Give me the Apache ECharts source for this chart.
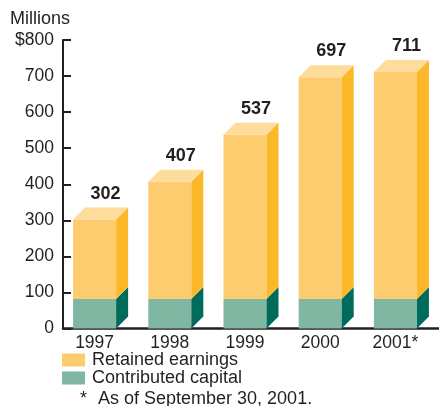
<!DOCTYPE html>
<html>
<head>
<meta charset="utf-8">
<script src="https://cdn.jsdelivr.net/npm/echarts@6/dist/echarts.min.js"></script>
<style>
  html, body { margin: 0; padding: 0; background: #fff; }
  #chart { width: 439px; height: 406px; }
</style>
</head>
<body>
<div id="chart"></div>
<script>
// Year-end capital, in millions of dollars
const years = ['1997', '1998', '1999', '2000', '2001*'];
const contributedCapital = [82, 82, 82, 82, 82];
const retainedEarnings = [220, 325, 455, 615, 629];
const yTickLabels = ['0', '100', '200', '300', '400', '500', '600', '700', '$800'];

const FONT = '"Liberation Sans", Arial, Helvetica, sans-serif';
const INK = '#231f20';
const DEPTH = 12;           // pixel depth of the extruded faces
const FRONT_RATIO = 0.572;  // front face width as a share of the category band

const palette = {
  retained: { front: '#fdcc6e', side: '#fbb829', top: '#fedc9c' },
  contributed: { front: '#80b7a2', side: '#006b5a', top: '#80b7a2' }
};

function rows(base, vals) {
  return vals.map((v, i) => [i, base ? base[i] : 0, (base ? base[i] : 0) + v]);
}

function makeRender(colors, withTop) {
  return function (params, api) {
    const idx = api.value(0);
    const lo = api.coord([idx, api.value(1)]);
    const hi = api.coord([idx, api.value(2)]);
    const band = api.size([1, 0])[0];
    const w = band * FRONT_RATIO;
    const d = DEPTH;
    const x0 = lo[0] - (w + d) / 2;
    const yB = lo[1], yT = hi[1];
    const children = [
      { type: 'rect', shape: { x: x0, y: yT, width: w, height: yB - yT },
        style: { fill: colors.front } },
      { type: 'polygon', shape: { points: [[x0 + w, yT], [x0 + w + d, yT - d], [x0 + w + d, yB - d], [x0 + w, yB]] },
        style: { fill: colors.side } }
    ];
    if (withTop) {
      children.push({ type: 'polygon',
        shape: { points: [[x0, yT], [x0 + w, yT], [x0 + w + d, yT - d], [x0 + d, yT - d]] },
        style: { fill: colors.top } });
      children.push({ type: 'text',
        style: { x: x0 + w / 2 + 11, y: yT - d - 14, text: String(api.value(2)),
          font: 'bold 18px ' + FONT, fill: INK, align: 'center', verticalAlign: 'middle' } });
    }
    return { type: 'group', children: children };
  };
}

const chart = echarts.init(document.getElementById('chart'), null, { renderer: 'canvas' });
chart.setOption({
  animation: false,
  backgroundColor: '#fff',
  grid: { left: 63, right: -4, top: 40, bottom: 77.5, containLabel: false },
  legend: {
    orient: 'vertical', left: 62, top: 351, itemWidth: 23, itemHeight: 13, itemGap: 0,
    icon: 'rect', padding: 0,
    textStyle: { fontFamily: FONT, fontSize: 18, lineHeight: 18, color: INK, padding: [0, 0, 0, 2] },
    data: ['Retained earnings', 'Contributed capital']
  },
  xAxis: {
    type: 'category', data: years,
    axisLine: { lineStyle: { color: INK, width: 2.5 } },
    axisTick: { show: false },
    axisLabel: { fontFamily: FONT, fontSize: 17.5, color: INK, margin: 6, padding: [0, 12, 0, 0] }
  },
  yAxis: {
    type: 'value', min: 0, max: 800, interval: 100,
    axisLine: { show: true, lineStyle: { color: INK, width: 2 } },
    axisTick: { show: true, inside: true, length: 8, lineStyle: { color: INK, width: 2 } },
    splitLine: { show: false },
    axisLabel: { fontFamily: FONT, fontSize: 17.5, color: INK, margin: 9,
      formatter: (v) => yTickLabels[Math.round(v / 100)] }
  },
  graphic: [
    { type: 'text', left: 10, top: 10, style: { text: 'Millions', font: '18px ' + FONT, fill: INK } },
    { type: 'text', left: 80, top: 390, style: { text: '*', font: '18px ' + FONT, fill: INK } },
    { type: 'text', left: 98, top: 390, style: { text: 'As of September 30, 2001.', font: '18px ' + FONT, fill: INK } }
  ],
  series: [
    { name: 'Contributed capital', type: 'custom', itemStyle: { color: palette.contributed.front },
      renderItem: makeRender(palette.contributed, false),
      encode: { x: 0, y: [1, 2] }, data: rows(null, contributedCapital) },
    { name: 'Retained earnings', type: 'custom', itemStyle: { color: palette.retained.front },
      renderItem: makeRender(palette.retained, true),
      encode: { x: 0, y: [1, 2] }, data: rows(contributedCapital, retainedEarnings) }
  ]
});
</script>
</body>
</html>
